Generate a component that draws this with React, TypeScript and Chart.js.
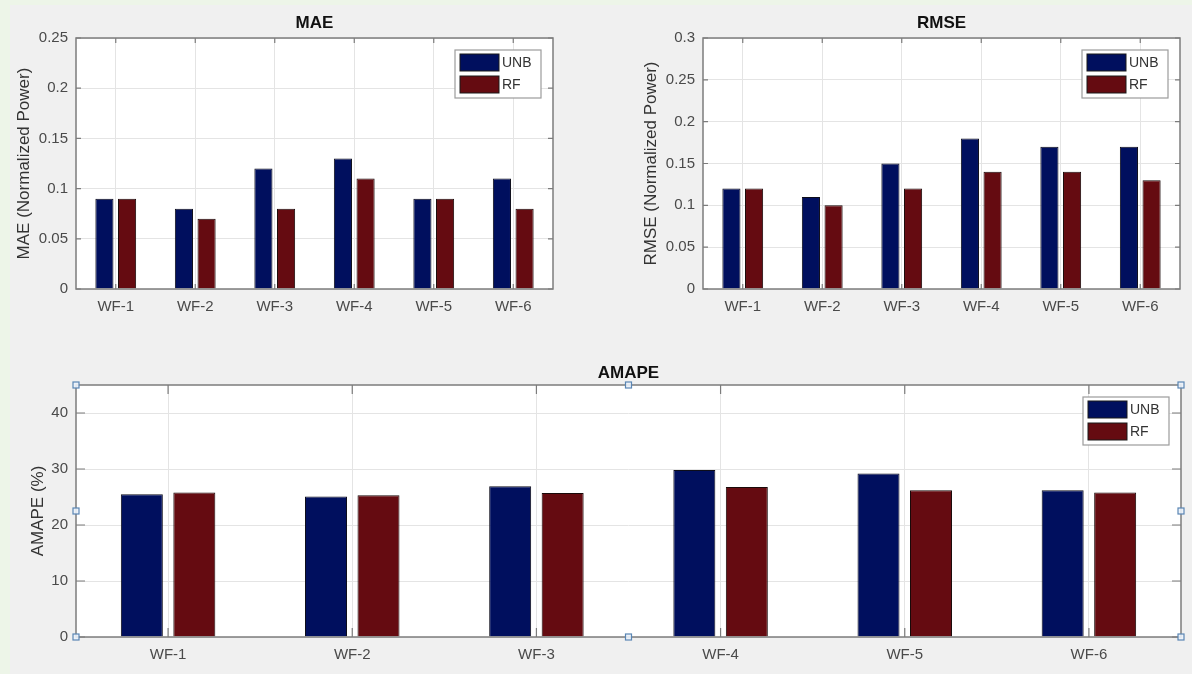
import { useEffect, useRef } from 'react';
import { Chart, registerables } from 'chart.js';

Chart.register(...registerables);

// ---------- data ----------
const categories = ['WF-1', 'WF-2', 'WF-3', 'WF-4', 'WF-5', 'WF-6'];
const seriesNames = ['UNB', 'RF'];

const maeUNB = [0.09, 0.08, 0.12, 0.13, 0.09, 0.11];
const maeRF = [0.09, 0.07, 0.08, 0.11, 0.09, 0.08];

const rmseUNB = [0.12, 0.11, 0.15, 0.18, 0.17, 0.17];
const rmseRF = [0.12, 0.10, 0.12, 0.14, 0.14, 0.13];

const amapeUNB = [25.5, 25.1, 26.9, 29.8, 29.2, 26.2];
const amapeRF = [25.8, 25.3, 25.7, 26.8, 26.2, 25.8];

const maeTicks = { max: 0.25, step: 0.05 };
const rmseTicks = { max: 0.3, step: 0.05 };
const amapeTicks = { max: 45, step: 10 };

// ---------- styles ----------
const FONT = "'Liberation Sans', Arial, Helvetica, sans-serif";
const UNB_COLOR = '#000f5e';
const RF_COLOR = '#650b11';
const AXIS_COLOR = '#7c7c7c';
const GRID_COLOR = '#e4e4e4';
const TICK_TEXT = '#4a4a4a';

const axesPlugin = {
  id: 'matlabAxes',
  beforeDraw(chart: any) {
    const { ctx, chartArea: ca } = chart;
    ctx.save();
    ctx.fillStyle = '#ffffff';
    ctx.fillRect(ca.left, ca.top, ca.right - ca.left, ca.bottom - ca.top);
    ctx.restore();
  },
  afterDatasetsDraw(chart: any, _args: any, opts: any) {
    const { ctx, chartArea: ca, scales } = chart;
    const tl = opts.tickLen || 5;
    ctx.save();
    ctx.strokeStyle = AXIS_COLOR;
    ctx.lineWidth = 1.5;
    ctx.strokeRect(ca.left, ca.top, ca.right - ca.left, ca.bottom - ca.top);
    ctx.lineWidth = 1.2;
    ctx.beginPath();
    const xs = scales.x;
    categories.forEach((_c, i) => {
      const px = xs.getPixelForValue(i);
      ctx.moveTo(px, ca.bottom);
      ctx.lineTo(px, ca.bottom - tl);
      ctx.moveTo(px, ca.top);
      ctx.lineTo(px, ca.top + tl);
    });
    const ys = scales.y;
    ys.ticks.forEach((t: any) => {
      const py = ys.getPixelForValue(t.value);
      ctx.moveTo(ca.left, py);
      ctx.lineTo(ca.left + tl, py);
      ctx.moveTo(ca.right, py);
      ctx.lineTo(ca.right - tl, py);
    });
    ctx.stroke();

    // legend box
    const lw = 86;
    const lh = 48;
    const bx = ca.right - 12 - lw;
    const by = ca.top + 12;
    ctx.fillStyle = '#ffffff';
    ctx.fillRect(bx, by, lw, lh);
    ctx.strokeStyle = '#9c9c9c';
    ctx.lineWidth = 1.2;
    ctx.strokeRect(bx, by, lw, lh);
    chart.data.datasets.forEach((ds: any, i: number) => {
      const py = by + 4 + i * 22;
      ctx.fillStyle = ds.backgroundColor;
      ctx.fillRect(bx + 5, py, 39, 17);
      ctx.strokeStyle = '#1a1a1a';
      ctx.lineWidth = 1;
      ctx.strokeRect(bx + 5, py, 39, 17);
      ctx.fillStyle = '#333333';
      ctx.font = `14px ${FONT}`;
      ctx.textBaseline = 'middle';
      ctx.textAlign = 'left';
      ctx.fillText(ds.label, bx + 47, py + 9);
    });
    ctx.restore();
  },
  afterDraw(chart: any, _args: any, opts: any) {
    if (!opts.handles) return;
    const { ctx, chartArea: ca } = chart;
    const mx = (ca.left + ca.right) / 2;
    const my = (ca.top + ca.bottom) / 2;
    const pts = [
      [ca.left, ca.top], [mx, ca.top], [ca.right, ca.top],
      [ca.left, my], [ca.right, my],
      [ca.left, ca.bottom], [mx, ca.bottom], [ca.right, ca.bottom],
    ];
    ctx.save();
    ctx.strokeStyle = '#5a86b4';
    ctx.fillStyle = 'rgba(235,242,250,0.9)';
    ctx.lineWidth = 1.2;
    pts.forEach(([x, y]) => {
      ctx.fillRect(x - 3, y - 3, 6, 6);
      ctx.strokeRect(x - 3, y - 3, 6, 6);
    });
    ctx.restore();
  },
};

type Spec = {
  title: string;
  yLabel: string;
  unb: number[];
  rf: number[];
  yMax: number;
  yStep: number;
  yWidth: number;
  xHeight: number;
  rightPad: number;
  titlePad: { top: number; bottom: number };
  yTitlePad: number;
  tickLen: number;
  handles: boolean;
  includeBounds: boolean;
};

function makeConfig(s: Spec): any {
  return {
    type: 'bar',
    data: {
      labels: categories,
      datasets: [
        {
          label: seriesNames[0],
          data: s.unb,
          backgroundColor: UNB_COLOR,
          borderColor: '#0d0d1a',
          borderWidth: 1,
          categoryPercentage: 0.57,
          barPercentage: 0.8,
        },
        {
          label: seriesNames[1],
          data: s.rf,
          backgroundColor: RF_COLOR,
          borderColor: '#1a0a0a',
          borderWidth: 1,
          categoryPercentage: 0.57,
          barPercentage: 0.8,
        },
      ],
    },
    options: {
      responsive: false,
      animation: false,
      devicePixelRatio: 1,
      layout: { padding: { left: 0, right: s.rightPad, top: 0, bottom: 0 } },
      plugins: {
        legend: { display: false },
        tooltip: { enabled: false },
        title: {
          display: true,
          text: s.title,
          color: '#111111',
          font: { family: FONT, size: 17, weight: 'bold' },
          padding: s.titlePad,
          fullSize: false,
        },
        matlabAxes: { tickLen: s.tickLen, handles: s.handles },
      },
      scales: {
        x: {
          type: 'category',
          offset: true,
          grid: { color: GRID_COLOR, offset: false, drawTicks: false },
          border: { display: false },
          ticks: {
            color: TICK_TEXT,
            font: { family: FONT, size: 15 },
            padding: 9,
            maxRotation: 0,
          },
          afterFit: (sc: any) => {
            sc.height = s.xHeight;
          },
        },
        y: {
          min: 0,
          max: s.yMax,
          grid: { color: GRID_COLOR, drawTicks: false },
          border: { display: false },
          ticks: {
            stepSize: s.yStep,
            includeBounds: s.includeBounds,
            color: TICK_TEXT,
            font: { family: FONT, size: 15 },
            padding: 8,
            callback: (v: any) => String(Number(Number(v).toFixed(4))),
          },
          title: {
            display: true,
            text: s.yLabel,
            color: '#333333',
            font: { family: FONT, size: 17 },
            padding: { top: s.yTitlePad, bottom: 0 },
          },
          afterFit: (sc: any) => {
            sc.width = s.yWidth;
          },
        },
      },
    },
    plugins: [axesPlugin],
  };
}

function ChartBox(props: { spec: Spec; left: number; top: number; width: number; height: number }) {
  const ref = useRef<HTMLCanvasElement | null>(null);
  useEffect(() => {
    if (!ref.current) return;
    const chart = new Chart(ref.current, makeConfig(props.spec));
    return () => chart.destroy();
  }, []);
  return (
    <canvas
      ref={ref}
      width={props.width}
      height={props.height}
      style={{ position: 'absolute', left: props.left, top: props.top, width: props.width, height: props.height }}
    />
  );
}

const maeSpec: Spec = {
  title: 'MAE',
  yLabel: 'MAE (Normalized Power)',
  unb: maeUNB,
  rf: maeRF,
  yMax: maeTicks.max,
  yStep: maeTicks.step,
  yWidth: 76,
  xHeight: 41,
  rightPad: 43,
  titlePad: { top: 12.8, bottom: 4.8 },
  yTitlePad: 13.8,
  tickLen: 5,
  handles: false,
  includeBounds: true,
};

const rmseSpec: Spec = {
  title: 'RMSE',
  yLabel: 'RMSE (Normalized Power)',
  unb: rmseUNB,
  rf: rmseRF,
  yMax: rmseTicks.max,
  yStep: rmseTicks.step,
  yWidth: 107,
  xHeight: 41,
  rightPad: 12,
  titlePad: { top: 12.8, bottom: 4.8 },
  yTitlePad: 44.8,
  tickLen: 5,
  handles: false,
  includeBounds: true,
};

const amapeSpec: Spec = {
  title: 'AMAPE',
  yLabel: 'AMAPE (%)',
  unb: amapeUNB,
  rf: amapeRF,
  yMax: amapeTicks.max,
  yStep: amapeTicks.step,
  yWidth: 76,
  xHeight: 37,
  rightPad: 11,
  titlePad: { top: 32.8, bottom: 1.8 },
  yTitlePad: 28,
  tickLen: 9,
  handles: true,
  includeBounds: false,
};

export default function App() {
  return (
    <div
      style={{
        position: 'fixed',
        left: 0,
        top: 0,
        width: 1192,
        height: 674,
        overflow: 'hidden',
        background: '#edf5e8',
      }}
    >
      <div style={{ position: 'absolute', left: 10, top: 5, right: 0, bottom: 0, background: '#f0f0f0' }} />
      <ChartBox spec={maeSpec} left={0} top={0} width={596} height={330} />
      <ChartBox spec={rmseSpec} left={596} top={0} width={596} height={330} />
      <ChartBox spec={amapeSpec} left={0} top={330} width={1192} height={344} />
    </div>
  );
}
